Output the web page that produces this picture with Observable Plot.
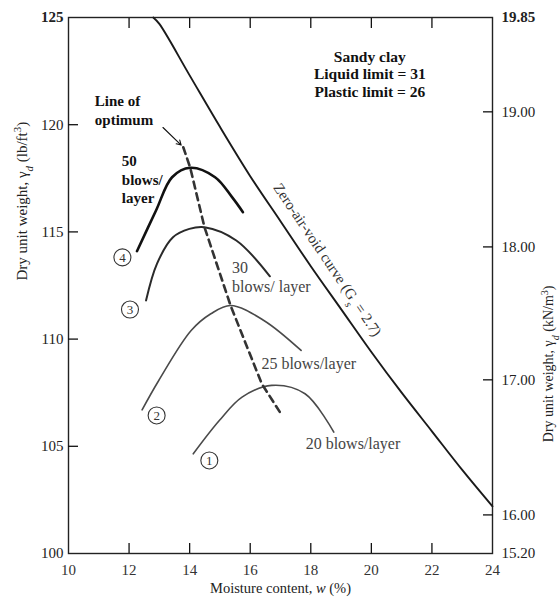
<!DOCTYPE html>
<html><head><meta charset="utf-8">
<script src="https://cdn.jsdelivr.net/npm/d3@7"></script>
<script src="https://cdn.jsdelivr.net/npm/@observablehq/plot@0.6"></script>
<style>body{margin:0;background:#fff} svg{display:block}</style>
</head><body>
<script>
// ---- axis ticks ----
const xTicks = [10, 12, 14, 16, 18, 20, 22, 24];
const yTicks = [100, 105, 110, 115, 120, 125];
const rightTickPos = [125, 120.6, 114.3, 108.1, 101.8, 100];
const rightTickLabels = ["19.85", "19.00", "18.00", "17.00", "16.00", "15.20"];

// ---- zero-air-void curve ----
const zavW = [12.8, 13, 14, 15, 16, 17, 18, 19, 20, 21, 22, 23, 24];
const zavG = [125, 124.7, 122.3, 119.9, 117.6, 115.5, 113.4, 111.4, 109.4, 107.5, 105.7, 103.9, 102.2];

// ---- compaction curves ----
const w50 = [12.26, 12.89, 13.42, 14.02, 14.84, 15.40, 15.76];
const g50 = [114.10, 116.00, 117.55, 117.99, 117.55, 116.62, 115.92];
const w30 = [12.56, 12.92, 13.45, 13.99, 14.49, 15.54, 16.65];
const g30 = [111.80, 113.51, 114.75, 115.14, 115.22, 114.60, 112.93];
const w25 = [12.43, 12.98, 14.05, 14.70, 15.35, 16.45, 17.68];
const g25 = [106.70, 108.07, 110.40, 111.18, 111.57, 110.87, 109.47];
const w20 = [14.12, 14.98, 15.73, 16.71, 17.81, 18.76];
const g20 = [104.65, 106.20, 107.29, 107.84, 107.45, 105.66];

// ---- line of optimum ----
const optW = [13.79, 14.02, 14.49, 15.35, 16.38, 17.05];
const optG = [118.95, 117.99, 115.22, 111.57, 107.92, 106.44];

// ---- circled curve numbers ----
const circW = [14.65, 12.91, 12.03, 11.78];
const circG = [104.34, 106.44, 111.38, 113.81];
const circText = ["1", "2", "3", "4"];

// ---- annotations ----
const boldText = ["Line of\noptimum", "50\nblows/\nlayer"];
const boldW = [10.87, 11.76];
const boldG = [120.71, 117.49];
const greyText = ["30\nblows/ layer", "25 blows/layer", "20 blows/layer"];
const greyW = [15.40, 16.37, 17.83];
const greyG = [112.92, 108.86, 105.13];

const infoText = "Sandy clay\nLiquid limit = 31\nPlastic limit = 26";
const infoPos = [19.95, 122.39];
const zavLabel = "Zero-air-void curve (G_s = 2.7)";
const zavLabelPos = [18.55, 113.7];
const arrowFrom = [13.12, 119.87];
const arrowTo = [13.72, 119.05];

const xLabel = "Moisture content, *w* (%)";
const yLabelLeft = "Dry unit weight, γ_d (lb/ft^3)";
const yLabelRight = "Dry unit weight, γ_d (kN/m^3)";

// ---- build tables ----
const pts = (ws, gs) => ws.map((w, i) => ({x: w, y: gs[i]}));
const rightMap = new Map(rightTickPos.map((p, i) => [p, rightTickLabels[i]]));
const boldAnn = boldText.map((t, i) => ({t, x: boldW[i], y: boldG[i]}));
const greyAnn = greyText.map((t, i) => ({t, x: greyW[i], y: greyG[i]}));
const circ = circText.map((t, i) => ({t, x: circW[i], y: circG[i]}));
const blank = () => "";

const svg = Plot.plot({
  width: 560, height: 601,
  marginLeft: 68, marginRight: 68, marginTop: 17, marginBottom: 48,
  style: {fontFamily: "Liberation Serif", fontSize: "14px", color: "#111", background: "#fff"},
  x: {domain: [10, 24], label: null},
  y: {domain: [100, 125], label: null},
  marks: [
    Plot.frame({stroke: "#222", strokeWidth: 1.4}),
    // tick labels
    Plot.axisX({anchor: "bottom", ticks: xTicks, tickSize: 0, tickPadding: 11, label: null, fontSize: 15, fill: "#333"}),
    Plot.axisY({anchor: "left", ticks: yTicks, tickSize: 0, tickPadding: 5, label: null, fontSize: 15, fill: "#222"}),
    Plot.axisY({anchor: "right", ticks: rightTickPos, tickSize: 0, tickPadding: 9, label: null,
      tickFormat: d => rightMap.get(d), fontSize: 15, fill: "#222"}),
    // inward ticks
    Plot.axisX({anchor: "bottom", ticks: xTicks.slice(1, -1), tickSize: 10, dy: -10, tickFormat: blank, label: null, strokeWidth: 1.3}),
    Plot.axisX({anchor: "top", ticks: xTicks.slice(1, -1), tickSize: 10, dy: 10, tickFormat: blank, label: null, strokeWidth: 1.3}),
    Plot.axisY({anchor: "left", ticks: yTicks.slice(1, -1), tickSize: 10, dx: 10, tickFormat: blank, label: null, strokeWidth: 1.3}),
    Plot.axisY({anchor: "right", ticks: rightTickPos.slice(1, -1), tickSize: 10, dx: -10, tickFormat: blank, label: null, strokeWidth: 1.3}),
    // axis titles
    Plot.text([yLabelLeft], {text: d => d, frameAnchor: "left", dx: -46, dy: -5, rotate: -90, fontSize: 15, fill: "#222"}),
    Plot.text([yLabelRight], {text: d => d, frameAnchor: "right", dx: 56, rotate: -90, fontSize: 14, fill: "#222"}),
    Plot.text([xLabel], {text: d => d, frameAnchor: "bottom", dy: 39, fontSize: 14.5, fill: "#222"}),
    // curves
    Plot.line(pts(zavW, zavG), {x: "x", y: "y", curve: "catmull-rom", stroke: "#1a1a1a", strokeWidth: 1.9}),
    Plot.line(pts(w20, g20), {x: "x", y: "y", curve: "catmull-rom", stroke: "#4a4a4a", strokeWidth: 1.6}),
    Plot.line(pts(w25, g25), {x: "x", y: "y", curve: "catmull-rom", stroke: "#4a4a4a", strokeWidth: 1.6}),
    Plot.line(pts(w30, g30), {x: "x", y: "y", curve: "catmull-rom", stroke: "#2a2a2a", strokeWidth: 2}),
    Plot.line(pts(w50, g50), {x: "x", y: "y", curve: "catmull-rom", stroke: "#111", strokeWidth: 2.6}),
    Plot.line(pts(optW, optG), {x: "x", y: "y", stroke: "#333", strokeWidth: 2.6, strokeDasharray: "7,5"}),
    Plot.arrow([{x1: arrowFrom[0], y1: arrowFrom[1], x2: arrowTo[0], y2: arrowTo[1]}],
      {x1: "x1", y1: "y1", x2: "x2", y2: "y2", stroke: "#111", strokeWidth: 1.1, headLength: 7}),
    // circled numbers
    Plot.dot(circ, {x: "x", y: "y", r: 8.5, stroke: "#333", strokeWidth: 1.1, fill: "#fff"}),
    Plot.text(circ, {x: "x", y: "y", text: "t", fontSize: 13, fill: "#333"}),
    // annotations
    Plot.text(boldAnn, {x: "x", y: "y", text: "t", textAnchor: "start", lineAnchor: "middle", fill: "#111",
      fontWeight: "bold", fontSize: 15, lineHeight: 1.25}),
    Plot.text(greyAnn, {x: "x", y: "y", text: "t", textAnchor: "start", lineAnchor: "middle", fill: "#444",
      fontSize: 16, lineHeight: 1.15}),
    Plot.text([infoText], {text: d => d, x: infoPos[0], y: infoPos[1], textAnchor: "middle", lineAnchor: "middle",
      fontSize: 15.5, fontWeight: "bold", lineHeight: 1.13, fill: "#111"}),
    Plot.text([zavLabel], {text: d => d, x: zavLabelPos[0], y: zavLabelPos[1], rotate: 56, fontSize: 15, fill: "#333"})
  ]
});

// rich text: _x subscript, ^x superscript, *...* italic
const NS = "http://www.w3.org/2000/svg";
svg.querySelectorAll("text").forEach(el => {
  if (el.querySelector("tspan")) return;
  const s = el.textContent;
  if (s === "125" || s === "19.85") el.setAttribute("font-weight", "bold");
  if (!/[_^*]/.test(s)) return;
  el.textContent = "";
  let buf = "", italic = false;
  const flush = () => {
    if (!buf) return;
    const t = document.createElementNS(NS, "tspan");
    t.textContent = buf;
    if (italic) t.setAttribute("font-style", "italic");
    el.appendChild(t); buf = "";
  };
  for (let i = 0; i < s.length; i++) {
    const c = s[i];
    if (c === "_" || c === "^") {
      flush();
      const t = document.createElementNS(NS, "tspan");
      t.textContent = s[i + 1];
      t.setAttribute("baseline-shift", c === "_" ? "sub" : "super");
      t.setAttribute("font-size", "72%");
      if (c === "_") t.setAttribute("font-style", "italic");
      el.appendChild(t); i++;
    } else if (c === "*") { flush(); italic = !italic; }
    else buf += c;
  }
  flush();
});
document.body.appendChild(svg);
</script>
</body></html>
